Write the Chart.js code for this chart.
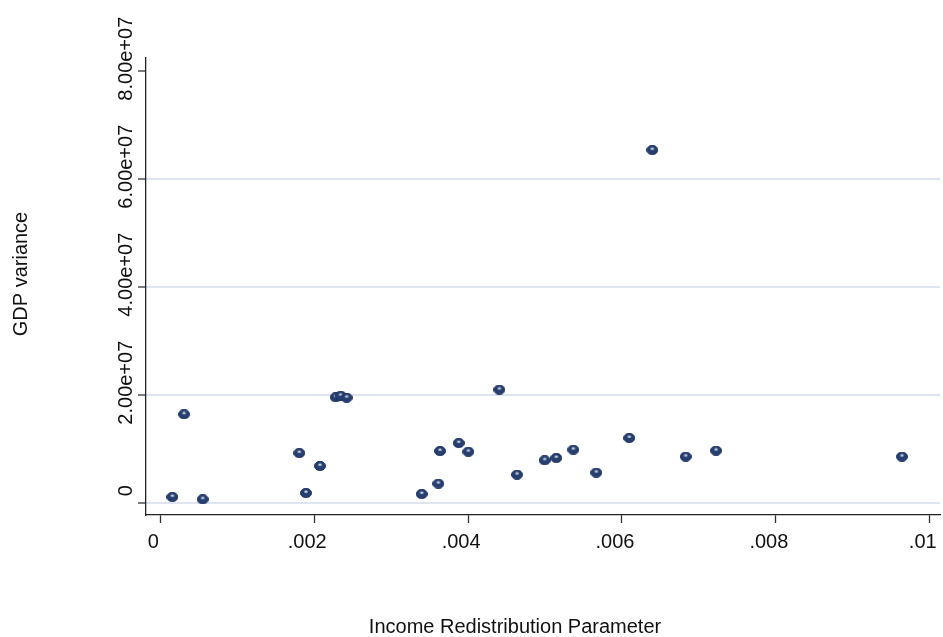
<!DOCTYPE html>
<html>
<head>
<meta charset="utf-8">
<script src="https://cdn.jsdelivr.net/npm/chart.js@4"></script>
<style>
  html, body { margin: 0; padding: 0; background: #ffffff; }
  #chart { display: block; }
</style>
</head>
<body>
<canvas id="chart" width="943" height="637"></canvas>
<script>
// Income redistribution parameter (x) and GDP variance (y) for each run
const incomeRedistribution = [
  0.000156, 0.000308, 0.000551, 0.001806, 0.001893, 0.002075,
  0.002280, 0.002344, 0.002422, 0.003397, 0.003613, 0.003635,
  0.003878, 0.004003, 0.004406, 0.004636, 0.004995, 0.005146,
  0.005367, 0.005666, 0.006095, 0.006394, 0.006828, 0.007222,
  0.009639
];
const gdpVariance = [
  1.06e6, 1.637e7, 6.3e5, 9.2e6, 1.8e6, 6.8e6,
  1.952e7, 1.98e7, 1.944e7, 1.61e6, 3.52e6, 9.57e6,
  1.105e7, 9.44e6, 2.093e7, 5.19e6, 7.85e6, 8.28e6,
  9.81e6, 5.56e6, 1.198e7, 6.531e7, 8.52e6, 9.63e6,
  8.52e6
];

// Axis ticks
const xTickValues = [0, 0.002, 0.004, 0.006, 0.008, 0.01];
const xTickLabels = ['0', '.002', '.004', '.006', '.008', '.01'];
const yTickValues = [0, 2e7, 4e7, 6e7, 8e7];
const yTickLabels = ['0', '2.00e+07', '4.00e+07', '6.00e+07', '8.00e+07'];

const xTitle = 'Income Redistribution Parameter';
const yTitle = 'GDP variance';

const FONT = '20px "Liberation Sans", Arial, sans-serif';
const TEXT_COLOR = '#111111';

// Shaded navy marker
function makeMarker() {
  const c = document.createElement('canvas');
  c.width = 12; c.height = 10;
  const g = c.getContext('2d');
  g.beginPath();
  g.ellipse(6, 5, 5.6, 4.7, 0, 0, Math.PI * 2);
  g.fillStyle = '#263f70';
  g.fill();
  g.lineWidth = 0.8;
  g.strokeStyle = '#1b2f57';
  g.stroke();
  const hl = g.createRadialGradient(6, 3.6, 0, 6, 3.6, 2.6);
  hl.addColorStop(0, 'rgba(255,255,255,0.95)');
  hl.addColorStop(1, 'rgba(255,255,255,0)');
  g.beginPath();
  g.ellipse(6, 3.7, 2.6, 1.5, 0, 0, Math.PI * 2);
  g.fillStyle = hl;
  g.fill();
  return c;
}

const points = incomeRedistribution.map((x, i) => ({ x: x, y: gdpVariance[i] }));

// Tick labels and axis titles
const labelPlugin = {
  id: 'axisText',
  afterDraw(chart) {
    const ctx = chart.ctx;
    const xs = chart.scales.x;
    const ys = chart.scales.y;
    ctx.save();
    ctx.font = FONT;
    ctx.fillStyle = TEXT_COLOR;

    // x tick labels
    ctx.textAlign = 'center';
    ctx.textBaseline = 'alphabetic';
    xTickValues.forEach((v, i) => {
      ctx.fillText(xTickLabels[i], xs.getPixelForValue(v) - 7, 548);
    });

    // y tick labels, rotated
    yTickValues.forEach((v, i) => {
      const py = ys.getPixelForValue(v) - 12;
      ctx.save();
      ctx.translate(132, py);
      ctx.rotate(-Math.PI / 2);
      ctx.textAlign = 'center';
      ctx.textBaseline = 'alphabetic';
      ctx.fillText(yTickLabels[i], 0, 0);
      ctx.restore();
    });

    // axis titles
    ctx.textAlign = 'center';
    ctx.textBaseline = 'alphabetic';
    ctx.fillText(xTitle, 515, 633);

    ctx.save();
    ctx.translate(27, 274);
    ctx.rotate(-Math.PI / 2);
    ctx.fillText(yTitle, 0, 0);
    ctx.restore();

    ctx.restore();
  }
};

function zeroPadding(s) {
  s.paddingLeft = 0; s.paddingRight = 0; s.paddingTop = 0; s.paddingBottom = 0;
}

new Chart(document.getElementById('chart'), {
  type: 'scatter',
  data: {
    datasets: [{
      data: points,
      pointStyle: makeMarker(),
      pointRadius: 6,
      pointHoverRadius: 6,
      showLine: false
    }]
  },
  options: {
    responsive: false,
    devicePixelRatio: 1,
    animation: false,
    events: [],
    layout: { autoPadding: false, padding: { left: 0, top: 58, right: 3, bottom: 0 } },
    plugins: {
      legend: { display: false },
      tooltip: { enabled: false }
    },
    scales: {
      x: {
        type: 'linear',
        position: 'bottom',
        min: -0.000186,
        max: 0.010133,
        afterBuildTicks: s => { s.ticks = xTickValues.map(v => ({ value: v })); },
        afterFit: s => { s.height = 122; zeroPadding(s); },
        ticks: { display: false },
        grid: {
          drawOnChartArea: false,
          drawTicks: true,
          tickLength: 8,
          tickColor: '#333333',
          tickWidth: 1.3
        },
        border: { display: true, color: '#222222', width: 1.3 }
      },
      y: {
        type: 'linear',
        position: 'left',
        min: -2.28e6,
        max: 8.235e7,
        afterBuildTicks: s => { s.ticks = yTickValues.map(v => ({ value: v })); },
        afterFit: s => { s.width = 146; zeroPadding(s); },
        ticks: { display: false },
        grid: {
          drawOnChartArea: true,
          drawTicks: true,
          tickLength: 8,
          color: c => (c.tick && c.tick.value === 8e7) ? 'rgba(0,0,0,0)' : '#dfe5f0',
          lineWidth: 2,
          tickColor: '#333333',
          tickWidth: 1.3
        },
        border: { display: true, color: '#222222', width: 1.3 }
      }
    }
  },
  plugins: [labelPlugin]
});
</script>
</body>
</html>
